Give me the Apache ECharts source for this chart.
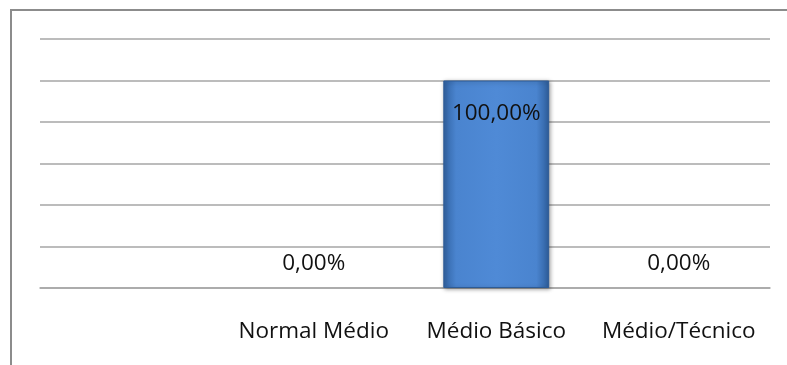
<!DOCTYPE html>
<html>
<head>
<meta charset="utf-8">
<script src="https://cdn.jsdelivr.net/npm/echarts@6/dist/echarts.min.js"></script>
<style>
  html, body { margin: 0; padding: 0; background: #fff; }
  #chart { width: 787px; height: 365px; }
</style>
</head>
<body>
<div id="chart"></div>
<script>
	/*dados do gráfico*/
	var categories = ['', 'Normal Médio', 'Médio Básico', 'Médio/Técnico'];
	var values = [null, 0, 100, 0];
	var yMin = 0, yMax = 120, yStep = 20;

	var fonte = '"Open Sans", sans-serif';
	var tamanho = 22.5;

	var myChart = echarts.init(document.getElementById('chart'));

	/*cor da barra com efeito de relevo*/
	var corBarra = new echarts.graphic.LinearGradient(0, 0, 1, 0, [
		{ offset: 0, color: '#3163a3' },
		{ offset: 0.12, color: '#4a84cf' },
		{ offset: 0.5, color: '#4f8ad6' },
		{ offset: 0.88, color: '#4a84cf' },
		{ offset: 1, color: '#2e5e9c' }
	]);

	/*barras com valor zero ficam invisíveis, só o rótulo aparece*/
	var dados = values.map(function (v) {
		if (v === 0) {
			return { value: v, itemStyle: { color: 'transparent', borderWidth: 0, shadowBlur: 0, shadowOffsetX: 0, shadowOffsetY: 0 } };
		}
		return v;
	});

	var option = {
		animation: false,
		backgroundColor: '#fff',
		graphic: [{
			type: 'rect',
			shape: { x: 11, y: 10, width: 800, height: 400 },
			style: { fill: 'none', stroke: '#8c8c8c', lineWidth: 2 },
			silent: true
		}],
		grid: { left: 40, right: 17, top: 39, bottom: 77 },
		xAxis: {
			type: 'category',
			data: categories,
			axisLine: { show: true, lineStyle: { color: '#a6a6a6', width: 1.5 } },
			axisTick: { show: false },
			axisLabel: {
				interval: 0,
				margin: 32,
				color: '#111',
				fontSize: tamanho,
				fontFamily: fonte
			}
		},
		yAxis: {
			type: 'value',
			min: yMin,
			max: yMax,
			interval: yStep,
			axisLine: { show: false },
			axisTick: { show: false },
			axisLabel: { show: false },
			splitLine: { lineStyle: { color: '#a6a6a6', width: 1.5 } }
		},
		series: [{
			type: 'bar',
			data: dados,
			barWidth: '58%',
			itemStyle: {
				color: corBarra,
				borderColor: '#2d5b96',
				borderWidth: 1,
				shadowColor: 'rgba(0,0,0,0.35)',
				shadowBlur: 4,
				shadowOffsetX: 1,
				shadowOffsetY: 1
			},
			label: {
				show: true,
				position: 'top',
				distance: 13,
				color: '#111',
				fontSize: tamanho,
				fontFamily: fonte,
				formatter: function (p) {
					if (p.value === null || p.value === undefined) return '';
					return p.value.toFixed(2).replace('.', ',') + '%';
				}
			},
			labelLayout: function (p) {
				/*rótulo dentro da barra quando é grande*/
				if (p.dataIndex === 2) {
					return {
						x: p.rect.x + p.rect.width / 2,
						y: p.rect.y + 33,
						align: 'center',
						verticalAlign: 'middle'
					};
				}
				return {};
			}
		}]
	};

	myChart.setOption(option);
</script>
</body>
</html>
